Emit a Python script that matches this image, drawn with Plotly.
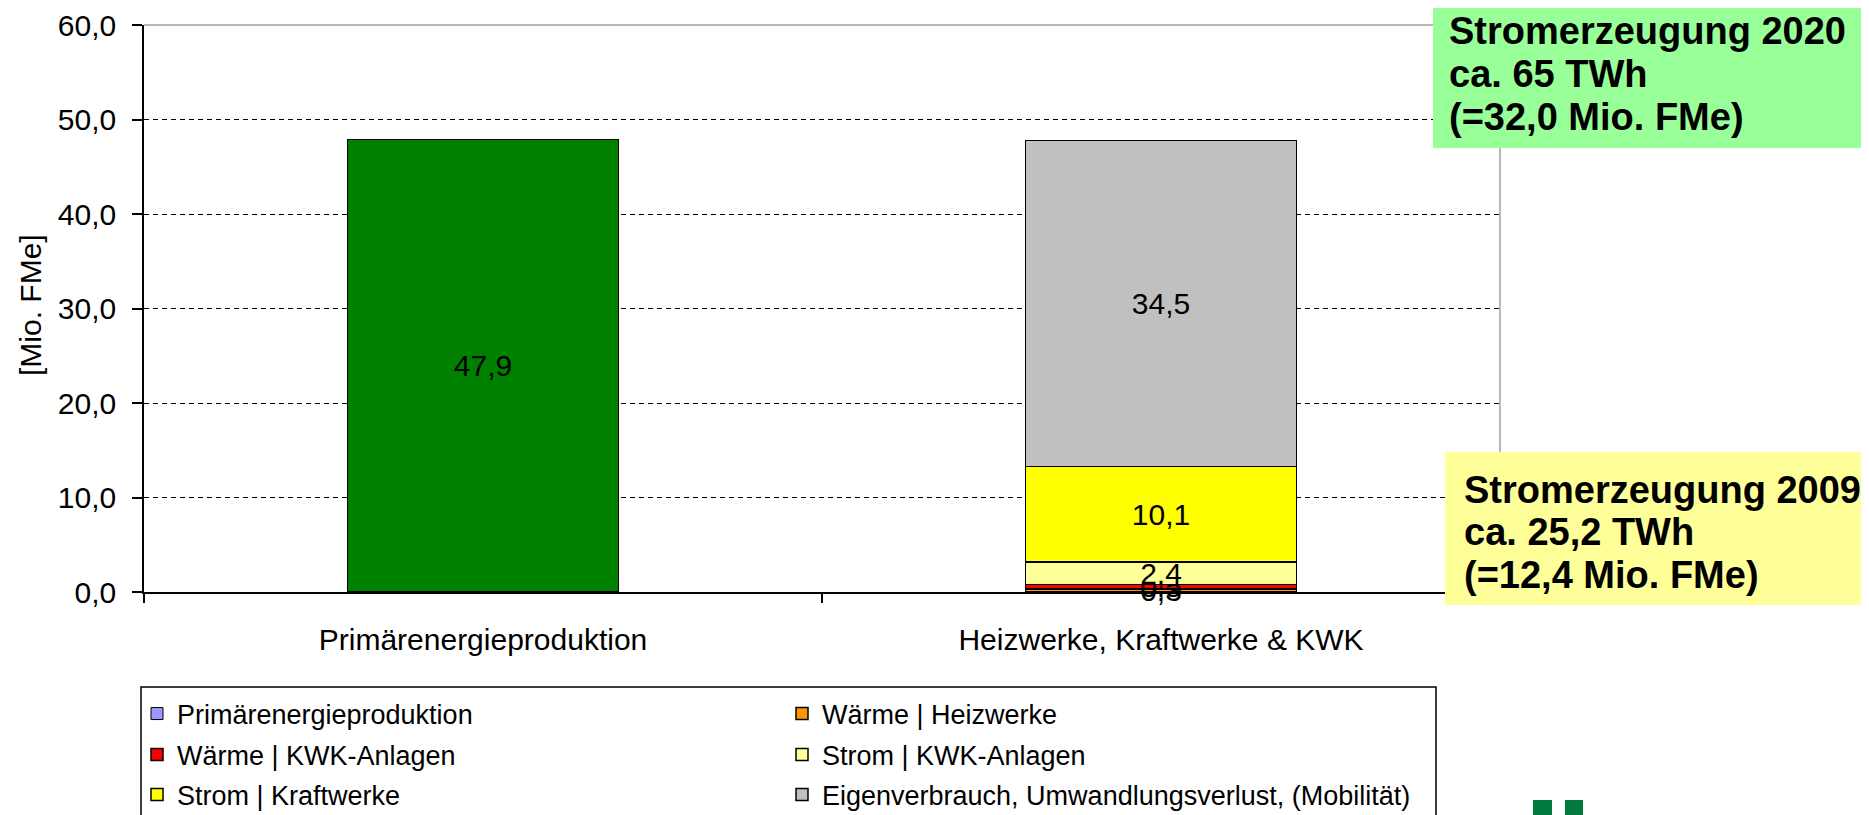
import plotly.graph_objects as go

# ---------------- data ----------------
categories = ["Primärenergieproduktion", "Heizwerke, Kraftwerke & KWK"]
series_names = [
    "Primärenergieproduktion",
    "Wärme | Heizwerke",
    "Wärme | KWK-Anlagen",
    "Strom | KWK-Anlagen",
    "Strom | Kraftwerke",
    "Eigenverbrauch, Umwandlungsverlust, (Mobilität)",
]
primaer = [47.9, None]
waerme_heizwerke = [None, 0.3]
waerme_kwk = [None, 0.5]
strom_kwk = [None, 2.4]
strom_kraftwerke = [None, 10.1]
eigenverbrauch = [None, 34.5]

y_ticks = [0, 10, 20, 30, 40, 50, 60]

box_2020 = ["Stromerzeugung 2020", "ca. 65 TWh", "(=32,0 Mio. FMe)"]
box_2009 = ["Stromerzeugung 2009", "ca. 25,2 TWh", "(=12,4 Mio. FMe)"]

# ---------------- styling ----------------
FONT = "Liberation Sans, Arial, sans-serif"
OFF = 8                      # default page body margin
PW, PH = 1869, 815           # page size
W, H = PW - OFF, PH - OFF    # figure size
L, R, T, B = 144, 1500, 25, 592  # plot area in page pixels


def px(x):
    return (x - L) / (R - L)


def py(y):
    return (B - y) / (B - T)


legend_colors = ["#9999FF", "#FF9900", "#FF0000", "#FFFF99", "#FFFF00", "#C0C0C0"]
bar_colors = ["#008000", "#FF9900", "#FF0000", "#FFFF99", "#FFFF00", "#C0C0C0"]
values = [primaer, waerme_heizwerke, waerme_kwk, strom_kwk, strom_kraftwerke, eigenverbrauch]
legend_ids = ["legend", "legend2", "legend3", "legend4", "legend5", "legend6"]
legend_x = [137, 782, 137, 782, 137, 782]      # page pixels (left of entry)
legend_y = [714, 714, 755, 755, 795, 795]      # page pixels (row centre)

fig = go.Figure()

label_style = dict(texttemplate="%{y:.1f}", textposition="inside", insidetextanchor="middle",
                   constraintext="none", cliponaxis=False,
                   textfont=dict(family=FONT, size=30, color="black"))

for i, (name, vals) in enumerate(zip(series_names, values)):
    if i == 0:
        # legend-only entry (legend colour differs from the recoloured bar)
        fig.add_trace(go.Bar(
            x=categories, y=[None, None], name=name, legend=legend_ids[i],
            marker=dict(color=legend_colors[i], line=dict(color="black", width=1)),
            showlegend=True, hoverinfo="skip",
        ))
        fig.add_trace(go.Bar(
            x=categories, y=vals, name=name, showlegend=False,
            marker=dict(color=bar_colors[i], line=dict(color="black", width=1.5)),
            **label_style,
        ))
    else:
        fig.add_trace(go.Bar(
            x=categories, y=vals, name=name, legend=legend_ids[i],
            marker=dict(color=bar_colors[i], line=dict(color="black", width=1.5)),
            **label_style,
        ))

shapes = [
    dict(type="line", xref="paper", yref="paper", x0=0, x1=1, y0=1, y1=1,
         line=dict(color="#A0A0A0", width=1.5), layer="above"),
    dict(type="line", xref="paper", yref="paper", x0=1, x1=1, y0=0, y1=1,
         line=dict(color="#A0A0A0", width=1.5), layer="above"),
    dict(type="rect", xref="paper", yref="paper", x0=px(141), x1=px(1436), y0=py(687), y1=py(830),
         line=dict(color="black", width=1.5), fillcolor="rgba(0,0,0,0)"),
    dict(type="rect", xref="paper", yref="paper", x0=px(1433), x1=px(1861), y0=py(-10), y1=py(148),
         line=dict(width=0), fillcolor="#99FF99", layer="above"),
    dict(type="rect", xref="paper", yref="paper", x0=px(1445), x1=px(1880), y0=py(452), y1=py(605),
         line=dict(width=0), fillcolor="#FFFF99", layer="above"),
    dict(type="rect", xref="paper", yref="paper", x0=px(1533), x1=px(1552), y0=py(800), y1=py(830),
         line=dict(width=0), fillcolor="#007A3D"),
    dict(type="rect", xref="paper", yref="paper", x0=px(1565), x1=px(1583), y0=py(800), y1=py(830),
         line=dict(width=0), fillcolor="#007A3D"),
]

annotations = [
    dict(text="[Mio. FMe]", textangle=-90, xref="paper", yref="paper", x=px(30), y=py(305),
         xanchor="center", yanchor="middle", showarrow=False,
         font=dict(family=FONT, size=30, color="black")),
]
for txt, yc in zip(box_2020, [31, 74, 117]):
    annotations.append(dict(text="<b>%s</b>" % txt, xref="paper", yref="paper", x=px(1447), y=py(yc),
                            xanchor="left", yanchor="middle", showarrow=False,
                            font=dict(family=FONT, size=38, color="black")))
for txt, yc in zip(box_2009, [490, 532, 575]):
    annotations.append(dict(text="<b>%s</b>" % txt, xref="paper", yref="paper", x=px(1462), y=py(yc),
                            xanchor="left", yanchor="middle", showarrow=False,
                            font=dict(family=FONT, size=38, color="black")))

legends = {}
for lid, lx, ly in zip(legend_ids, legend_x, legend_y):
    legends[lid] = dict(
        orientation="h", x=px(lx), y=py(ly), xanchor="left", yanchor="middle", itemwidth=30,
        font=dict(family=FONT, size=27, color="black"),
        bgcolor="rgba(0,0,0,0)", borderwidth=0, traceorder="normal",
    )

fig.update_layout(
    width=W, height=H,
    margin=dict(l=L - OFF, r=PW - R, t=T - OFF, b=PH - B, autoexpand=False),
    paper_bgcolor="white", plot_bgcolor="white",
    barmode="stack", bargap=0.6,
    separators=", ",
    font=dict(family=FONT, size=30, color="black"),
    showlegend=True,
    xaxis=dict(
        type="category", categoryorder="array", categoryarray=categories,
        showline=True, linecolor="black", linewidth=1.5,
        ticks="outside", tickson="boundaries", ticklen=9, tickcolor="black", tickwidth=1.5,
        showgrid=False, tickfont=dict(family=FONT, size=30, color="black"),
        ticklabelstandoff=20,
    ),
    yaxis=dict(
        range=[0, 60], tickvals=y_ticks, tickformat=".1f",
        showline=True, linecolor="black", linewidth=1.5,
        ticks="outside", ticklen=10, tickcolor="black", tickwidth=1.5,
        showgrid=True, gridcolor="black", gridwidth=1, griddash="5px,4px",
        zeroline=False,
        tickfont=dict(family=FONT, size=30, color="black"),
        ticklabelstandoff=10,
    ),
    shapes=shapes,
    annotations=annotations,
    **legends,
)

fig.write_html("out.html")
